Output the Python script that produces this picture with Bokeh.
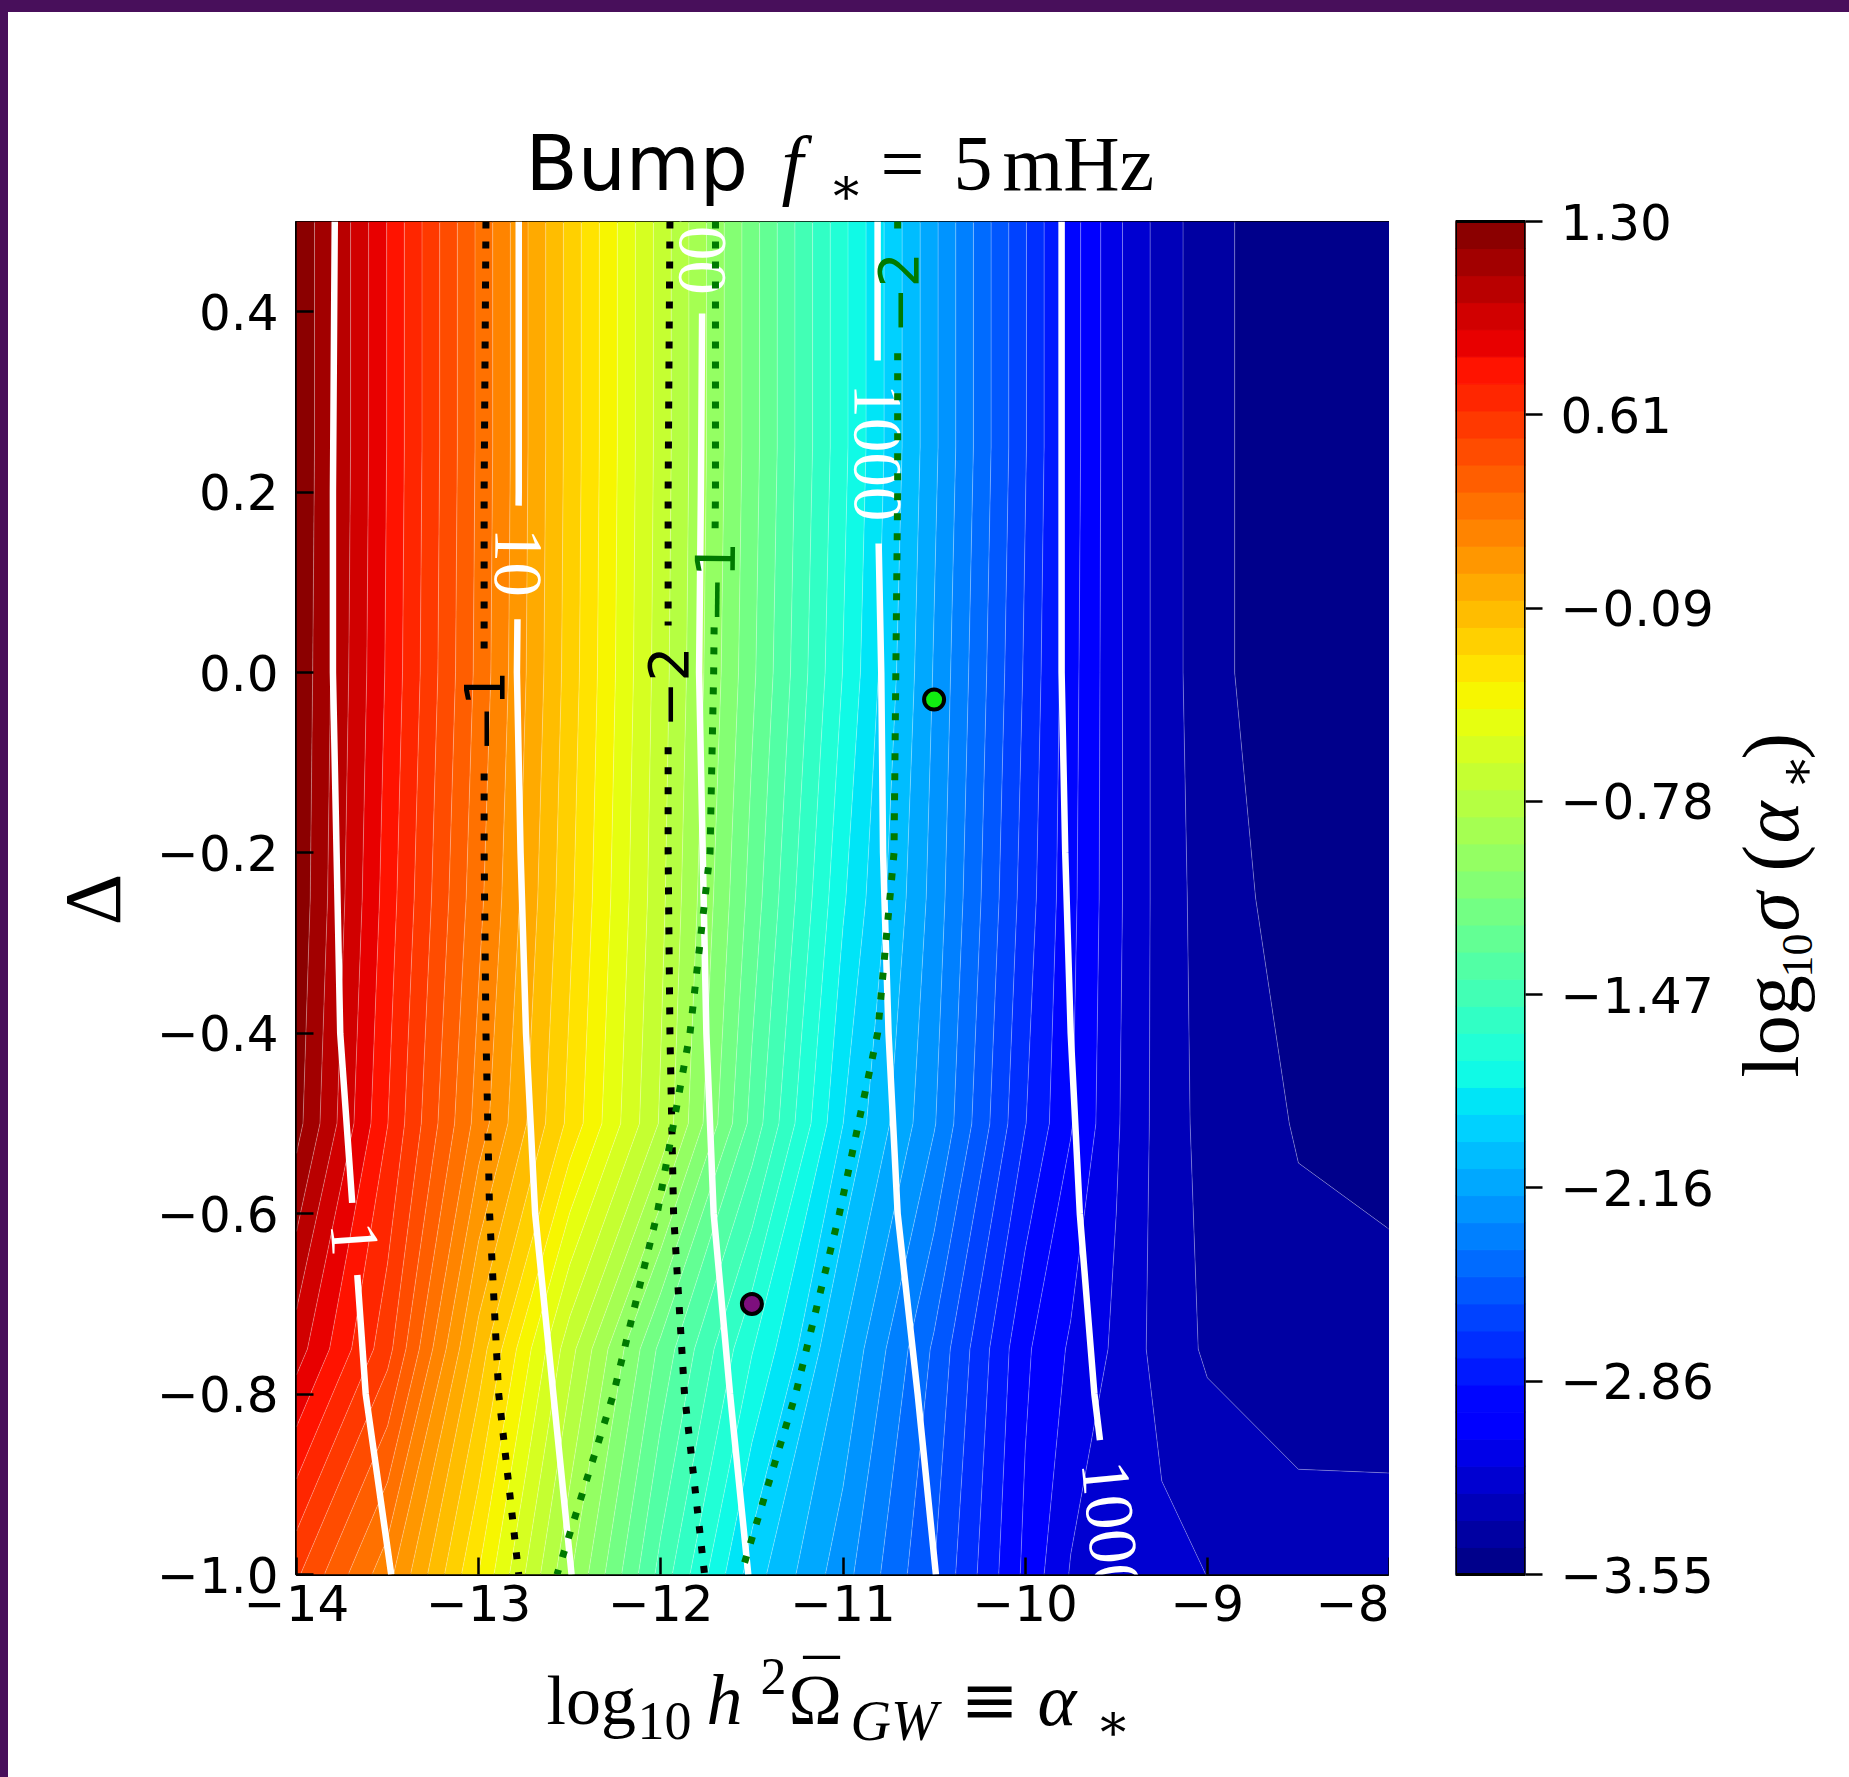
import math
import numpy as np
from bokeh.plotting import figure
from bokeh.models import Range1d, FixedTicker, CustomJSTickFormatter, ColumnDataSource
from bokeh.layouts import row, column
from bokeh.core.properties import value
from bokeh.embed import file_html
from bokeh.resources import INLINE

# ------------------------------------------------------------------ data
# log10 sigma(alpha*) field on a coarse grid
field_x = [-14.0, -13.5, -13.0, -12.5, -12.0, -11.5, -11.0, -10.5, -10.0, -9.75, -9.5, -9.25, -9.0, -8.5, -8.0]
field_delta = [-1.0, -0.75, -0.5, -0.25, 0.0, 0.25, 0.5]
sigma_row_m100 = [0.54, 0.17, -0.35, -0.92, -1.45, -1.95, -2.25, -2.58, -2.99, -3.17, -3.20, -3.23, -3.26, -3.30, -3.32]
sigma_row_m075 = [0.96, 0.56, -0.10, -0.70, -1.25, -1.70, -2.10, -2.50, -2.95, -3.08, -3.18, -3.30, -3.37, -3.42, -3.40]
sigma_row_m050 = [1.24, 0.72, 0.19, -0.28, -0.75, -1.35, -1.90, -2.28, -2.77, -2.96, -3.15, -3.30, -3.39, -3.46, -3.50]
sigma_row_m025 = [1.28, 0.77, 0.26, -0.23, -0.71, -1.26, -1.79, -2.23, -2.72, -2.94, -3.14, -3.30, -3.40, -3.50, -3.53]
sigma_row_p000 = [1.29, 0.80, 0.30, -0.20, -0.69, -1.20, -1.71, -2.20, -2.69, -2.93, -3.14, -3.30, -3.42, -3.53, -3.55]
sigma_row_p025 = [1.30, 0.81, 0.31, -0.19, -0.68, -1.18, -1.68, -2.17, -2.67, -2.92, -3.14, -3.30, -3.42, -3.53, -3.55]
sigma_row_p050 = [1.30, 0.81, 0.31, -0.19, -0.68, -1.18, -1.68, -2.17, -2.67, -2.92, -3.14, -3.30, -3.42, -3.53, -3.55]
sigma_min, sigma_max, sigma_bands = -3.55, 1.30, 50

# contour lines: x position at each Delta node
contour_delta = [0.5, 0.2, 0.0, -0.2, -0.4, -0.6, -0.8, -1.0]
snr_labels = ["1", "10", "100", "1000", "10000"]
snr_x = [
    [-13.79, -13.80, -13.80, -13.78, -13.76, -13.69, -13.62, -13.48],
    [-12.78, -12.78, -12.79, -12.77, -12.74, -12.69, -12.59, -12.49],
    [-11.77, -11.78, -11.79, -11.77, -11.75, -11.71, -11.62, -11.52],
    [-10.81, -10.81, -10.79, -10.78, -10.75, -10.70, -10.59, -10.49],
    [-9.80, -9.80, -9.80, -9.78, -9.75, -9.70, -9.62, -9.50],
]
snr_label_delta = [-0.628, 0.122, 0.476, 0.244, -0.969]
snr_gap = [(-0.588, -0.668), (0.185, 0.059), (0.5, 0.398), (0.346, 0.143), (-0.851, -1.0)]

black_labels = ["\u22121", "\u22122"]
black_x = [
    [-12.96, -12.97, -12.97, -12.97, -12.96, -12.94, -12.89, -12.78],
    [-11.95, -11.96, -11.96, -11.96, -11.95, -11.93, -11.87, -11.76],
]
black_label_delta = [-0.043, -0.016]
black_gap = [(0.02, -0.112), (0.052, -0.083)]

green_labels = ["\u22121", "\u22122"]
green_x = [
    [-11.70, -11.70, -11.71, -11.73, -11.84, -12.02, -12.26, -12.57],
    [-10.70, -10.70, -10.71, -10.72, -10.81, -11.02, -11.26, -11.56],
]
green_label_delta = [0.10, 0.421]
green_gap = [(0.160, 0.050), (0.48, 0.354)]

points_x = [-11.50, -10.50]
points_delta = [-0.70, -0.03]
points_color = ["#7d0f7d", "#11ee11"]

x_ticks = [-14, -13, -12, -11, -10, -9, -8]
x_tick_labels = ["\u221214", "\u221213", "\u221212", "\u221211", "\u221210", "\u22129", "\u22128"]
y_ticks = [-1.0, -0.8, -0.6, -0.4, -0.2, 0.0, 0.2, 0.4]
y_tick_labels = ["\u22121.0", "\u22120.8", "\u22120.6", "\u22120.4", "\u22120.2", "0.0", "0.2", "0.4"]
cbar_ticks = [-3.55, -2.857, -2.164, -1.471, -0.779, -0.086, 0.607, 1.30]
cbar_tick_labels = ["\u22123.55", "\u22122.86", "\u22122.16", "\u22121.47", "\u22120.78", "\u22120.09", "0.61", "1.30"]

# ------------------------------------------------------------------ style / page geometry
FRAME_W, FRAME_H = 1093, 1353
PAGE_W, PAGE_BOT = 1849, 1777
PAGE_TOP, PAGE_LEFT = 12, 8          # purple strips at the top and left
FRAME_TOP = 221                      # page y of the plot frame top
FRAME_BOT = FRAME_TOP + FRAME_H      # 1574
SANS = "DejaVu Sans"
SERIF = "Liberation Serif"
MATHSYM = "DejaVu Serif"
PURPLE = "#480f5b"
# distance from alphabetic baseline to the middle of the font box, in em
MID = {SANS: 0.346, SERIF: 0.3375, MATHSYM: 0.346}


def jet(t):
    r = np.interp(t, [0, 0.35, 0.66, 0.89, 1], [0, 0, 1, 1, 0.5])
    g = np.interp(t, [0, 0.125, 0.375, 0.64, 0.91, 1], [0, 0, 1, 1, 0, 0])
    b = np.interp(t, [0, 0.11, 0.34, 0.65, 1], [0.5, 1, 1, 0, 0])
    return "#%02x%02x%02x" % (int(round(r * 255)), int(round(g * 255)), int(round(b * 255)))


palette = [jet((i + 0.5) / sigma_bands) for i in range(sigma_bands)]
levels = np.linspace(sigma_min, sigma_max, sigma_bands + 1)
fill_levels = levels.copy()
fill_levels[0] -= 0.02
fill_levels[-1] += 0.02

tick_code = """
let best = 0, bd = 1e9;
for (let k = 0; k < tv.length; k++) {
  const d = Math.abs(tv[k] - tick);
  if (d < bd) { bd = d; best = k; }
}
return tl[best];
"""


def fmt(vals, labs):
    return CustomJSTickFormatter(args=dict(tv=list(vals), tl=list(labs)), code=tick_code)


# ------------------------------------------------------------------ main plot
P_LEFT, P_BOTTOM = 148, 70
LEFT_W = 140
P_W = P_LEFT + FRAME_W
COL_W = LEFT_W + P_W
p = figure(frame_width=FRAME_W, frame_height=FRAME_H,
           x_range=Range1d(-14, -8), y_range=Range1d(-1.0, 0.5),
           output_backend="svg", toolbar_location=None,
           min_border_left=P_LEFT, min_border_right=0, min_border_top=0, min_border_bottom=P_BOTTOM)
p.grid.visible = False
p.background_fill_color = "white"
p.outline_line_color = "black"
p.outline_line_width = 3

z = np.array([sigma_row_m100, sigma_row_m075, sigma_row_m050, sigma_row_m025,
              sigma_row_p000, sigma_row_p025, sigma_row_p050])
p.contour(np.array(field_x), np.array(field_delta), z, fill_levels,
          fill_color=palette, line_color="white", line_alpha=0.35, line_width=0.8)

px_x = FRAME_W / 6.0
px_y = FRAME_H / 1.5
dnodes = np.array(contour_delta)


def interp_x(xs, d):
    return float(np.interp(d, dnodes[::-1], np.array(xs)[::-1]))


def build(xs_list, gaps, label_d, texts, upward):
    seg_x, seg_y = [], []
    lx, ly, la, lt = [], [], [], []
    for xs, (gt, gb), d0, t in zip(xs_list, gaps, label_d, texts):
        xs_arr = np.array(xs)
        if gt < 0.5:
            m = dnodes > gt
            seg_x.append([float(v) for v in xs_arr[m]] + [interp_x(xs, gt)])
            seg_y.append([float(v) for v in dnodes[m]] + [gt])
        if gb > -1.0:
            m = dnodes < gb
            seg_x.append([interp_x(xs, gb)] + [float(v) for v in xs_arr[m]])
            seg_y.append([gb] + [float(v) for v in dnodes[m]])
        eps = 0.05
        xa, xb = interp_x(xs, d0 + eps), interp_x(xs, d0 - eps)
        ang = math.atan2(-2 * eps * px_y, (xb - xa) * px_x)
        if upward:
            ang += math.pi
        lx.append(interp_x(xs, d0))
        ly.append(d0)
        la.append(ang)
        lt.append(t)
    return seg_x, seg_y, ColumnDataSource(dict(x=lx, y=ly, angle=la, text=lt))


sx, sy, s_lab = build(snr_x, snr_gap, snr_label_delta, snr_labels, False)
p.multi_line(sx, sy, line_color="white", line_width=6.5)
p.text(x="x", y="y", text="text", angle="angle", source=s_lab, text_color="white",
       text_font=value(SERIF), text_font_size=value("69px"),
       text_align="center", text_baseline="middle")

bx, by, b_lab = build(black_x, black_gap, black_label_delta, black_labels, True)
p.multi_line(bx, by, line_color="black", line_width=7, line_dash="7 13", line_cap="butt")
p.text(x="x", y="y", text="text", angle="angle", source=b_lab, text_color="black",
       text_font=value(SANS), text_font_size=value("55px"),
       text_align="center", text_baseline="middle")

gx, gy, g_lab = build(green_x, green_gap, green_label_delta, green_labels, True)
p.multi_line(gx, gy, line_color="#007a00", line_width=7, line_dash="7 13", line_cap="butt")
p.text(x="x", y="y", text="text", angle="angle", source=g_lab, text_color="#007a00",
       text_font=value(SANS), text_font_size=value("55px"),
       text_align="center", text_baseline="middle")

p.scatter(points_x, points_delta, size=20, fill_color=points_color, line_color="black", line_width=4)

for ax in (p.xaxis[0], p.yaxis[0]):
    ax.axis_line_color = None
    ax.major_tick_in = 17
    ax.major_tick_out = 0
    ax.major_tick_line_width = 2.5
    ax.major_tick_line_color = "black"
    ax.minor_tick_line_color = None
    ax.major_label_text_font = SANS
    ax.major_label_text_font_size = "50px"
    ax.major_label_text_color = "black"
p.xaxis.ticker = FixedTicker(ticks=x_ticks)
p.xaxis.formatter = fmt(x_ticks, x_tick_labels)
p.xaxis.major_label_standoff = 10
p.yaxis.ticker = FixedTicker(ticks=y_ticks)
p.yaxis.formatter = fmt(y_ticks, y_tick_labels)
p.yaxis.major_label_standoff = 18

# ------------------------------------------------------------------ colour bar (full page height)
per_px = (sigma_max - sigma_min) / FRAME_H
cb_lo = sigma_min - (PAGE_BOT - FRAME_BOT) * per_px
cb_hi = sigma_max + (FRAME_TOP - PAGE_TOP) * per_px
CB_LEFT, CB_BAR, CB_RIGHT = 66, 70, 200
cb = figure(frame_width=CB_BAR, frame_height=PAGE_BOT - PAGE_TOP, x_range=Range1d(0, 1),
            y_range=Range1d(cb_lo, cb_hi), x_axis_location=None, y_axis_location="right",
            output_backend="svg", toolbar_location=None,
            min_border_left=CB_LEFT, min_border_right=CB_RIGHT, min_border_top=0, min_border_bottom=0)
cb.grid.visible = False
cb.outline_line_color = None
band_src = ColumnDataSource(dict(bottom=[float(v) for v in levels[:-1]],
                                 top=[float(v) for v in levels[1:]], color=palette))
cb.quad(left=0, right=1, bottom="bottom", top="top", fill_color="color", line_color="color",
        line_width=1, source=band_src)
cb.quad(left=[0], right=[1], bottom=[sigma_min], top=[sigma_max], fill_color=None,
        line_color="black", line_width=3)
ya = cb.yaxis[0]
ya.ticker = FixedTicker(ticks=cbar_ticks)
ya.formatter = fmt(cbar_ticks, cbar_tick_labels)
ya.axis_line_color = None
ya.major_tick_in = 0
ya.major_tick_out = 17
ya.major_tick_line_width = 2.5
ya.minor_tick_line_color = None
ya.major_label_text_font = SANS
ya.major_label_text_font_size = "50px"
ya.major_label_text_color = "black"
ya.major_label_standoff = 18


# ------------------------------------------------------------------ text panels (page-pixel coords)
def panel(px0, py0, w, h, top=0, bottom=0):
    f = figure(width=w, height=h, x_range=Range1d(px0, px0 + w),
               y_range=Range1d(-(py0 + h - bottom), -(py0 + top)),
               x_axis_location=None, y_axis_location=None, output_backend="svg", toolbar_location=None,
               min_border=0, min_border_left=0, min_border_right=0,
               min_border_top=top, min_border_bottom=bottom)
    f.grid.visible = False
    f.outline_line_color = None
    f.background_fill_color = "white"
    f.border_fill_color = "white"
    return f


def put(f, items, angle=0.0):
    # items: (text, font, size, style, page_x, page_y of the alphabetic baseline)
    ca, sa = math.cos(angle), math.sin(angle)
    for txt, font, size, style, x, y in items:
        m = MID[font] * size          # move from baseline to box middle, along the text's "up"
        ax_, ay_ = x - m * sa, -y + m * ca
        f.text(x=[ax_], y=[ay_], text=[txt], angle=angle, text_font=value(font),
               text_font_size=value(f"{size}px"), text_font_style=value(style),
               text_align=value("left"), text_baseline=value("middle"), text_color="black")


title_fig = panel(PAGE_LEFT, PAGE_TOP, COL_W, FRAME_TOP - PAGE_TOP)
TB = 189
put(title_fig, [
    ("Bump", SANS, 76, "normal", 525, TB),
    ("f", SERIF, 78, "italic", 781, TB),
    ("\u2217", MATHSYM, 52, "normal", 828, TB + 14),
    ("=", SERIF, 78, "normal", 880, TB),
    ("5", SERIF, 78, "normal", 953, TB),
    ("mHz", SERIF, 78, "normal", 1002, TB),
])

left_fig = panel(PAGE_LEFT, FRAME_TOP, LEFT_W, FRAME_H + P_BOTTOM, top=0, bottom=P_BOTTOM)
left_fig.text(x=[92], y=[-899], text=["\u0394"], angle=math.pi / 2, text_font=value(SERIF),
              text_font_size=value("80px"), text_align=value("center"),
              text_baseline=value("middle"), text_color="black")

bottom_top = FRAME_BOT + P_BOTTOM
bottom_fig = panel(PAGE_LEFT, bottom_top, COL_W, PAGE_BOT - bottom_top)
XB = 1724
put(bottom_fig, [
    ("log", SERIF, 70, "normal", 546, XB),
    ("10", SERIF, 54, "normal", 637, XB + 15),
    ("h", SERIF, 72, "italic", 706, XB),
    ("2", SERIF, 52, "normal", 760, XB - 30),
    ("\u03a9", SERIF, 72, "normal", 788, XB),
    ("\u00af", SERIF, 72, "normal", 803, XB - 14),
    ("GW", SERIF, 56, "italic", 850, XB + 15),
    ("\u2261", MATHSYM, 70, "normal", 960, XB),
    ("\u03b1", SERIF, 74, "italic", 1037, XB),
    ("\u2217", MATHSYM, 52, "normal", 1095, XB + 15),
])

cb_page_left = PAGE_LEFT + COL_W
right_x0 = cb_page_left + CB_LEFT + CB_BAR + CB_RIGHT
right_fig = panel(right_x0, PAGE_TOP, PAGE_W - right_x0, PAGE_BOT - PAGE_TOP)
# rotated label reading upwards; alphabetic baseline at page x 1797
rot = [("log", SERIF, 80, "normal", 0, 0),
       ("10", SERIF, 44, "normal", 100, 15),
       ("\u03c3", SERIF, 80, "italic", 146, 0),
       ("(", SERIF, 80, "normal", 206, 0),
       ("\u03b1", SERIF, 80, "italic", 234, 0),
       ("\u2217", MATHSYM, 52, "normal", 288, 16),
       (")", SERIF, 80, "normal", 318, 0)]
put(right_fig, [(t, fnt, s, st, 1797 + dx, 1077 - along) for t, fnt, s, st, along, dx in rot],
    angle=math.pi / 2)

layout = row(column(title_fig, row(left_fig, p), bottom_fig), cb, right_fig)
html = file_html(layout, INLINE, title="Bump f* = 5 mHz")
html_style = ("background:linear-gradient(%s,%s) 0 0/100%% %dpx no-repeat,"
              "linear-gradient(%s,%s) 0 0/%dpx 100%% no-repeat,#ffffff;overflow:hidden"
              % (PURPLE, PURPLE, PAGE_TOP, PURPLE, PURPLE, PAGE_LEFT))
hpos = html.find("<html")
if hpos >= 0:
    html = html[:hpos + 5] + ' style="%s"' % html_style + html[hpos + 5:]
head_end = html.find("</head>")
body_at = html.find("<body", head_end if head_end >= 0 else 0)
if body_at >= 0:
    html = (html[:body_at] +
            '<body style="margin:%dpx 0 0 %dpx;height:calc(100%% - %dpx);width:calc(100%% - %dpx);'
            'background:#ffffff;overflow:hidden"' % (PAGE_TOP, PAGE_LEFT, PAGE_TOP, PAGE_LEFT) +
            html[body_at + 5:])
open("out.html", "w").write(html)
